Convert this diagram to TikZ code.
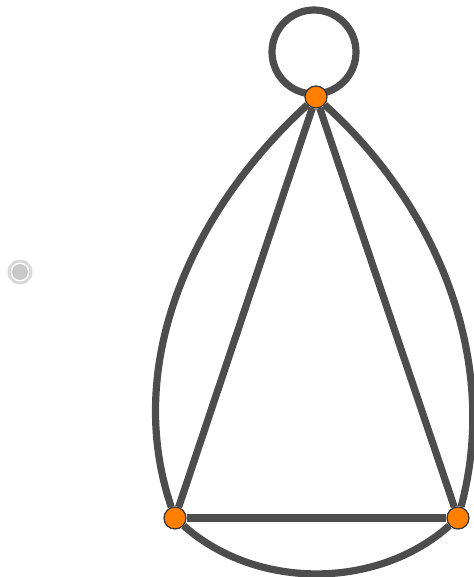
\documentclass[tikz,border=0pt]{standalone}
\usetikzlibrary{backgrounds}

\definecolor{edgegray}{HTML}{4D4D4D}
\definecolor{vertexorange}{HTML}{FF8000}

\begin{document}
\begin{tikzpicture}[
    x=0.5pt,y=-0.5pt,
    vertex/.style={circle,draw=black!80,line width=0.6pt,fill=vertexorange,minimum size=11pt,inner sep=0pt},
    edge/.style={draw=edgegray,line width=3.6pt},
    radio/.style={circle,draw=black!15,line width=1.5pt,fill=white,minimum size=11pt,inner sep=0pt,
        path picture={\fill[black!21] (path picture bounding box.center) circle[radius=4pt];}}
]
    \useasboundingbox (0,0) rectangle (473,577);

    \node[vertex] (top) at (316,97) {};
    \node[vertex] (left) at (175,518) {};
    \node[vertex] (right) at (458,518) {};
    \coordinate (loopc) at (314,52);

    \node[radio] (dot) at (20,272) {};

    \begin{scope}[on background layer]
        \draw[edge] (loopc) circle[radius=21pt];
        \draw[edge] (top) -- (left);
        \draw[edge] (top) -- (right);
        \draw[edge] (left) -- (right);
        \draw[edge] (top) .. controls (194,208) and (122,362) .. (left);
        \draw[edge] (top) .. controls (439,208) and (500,362) .. (right);
        \draw[edge] (left) .. controls (256,590) and (377,590) .. (right);
    \end{scope}
\end{tikzpicture}
\end{document}
